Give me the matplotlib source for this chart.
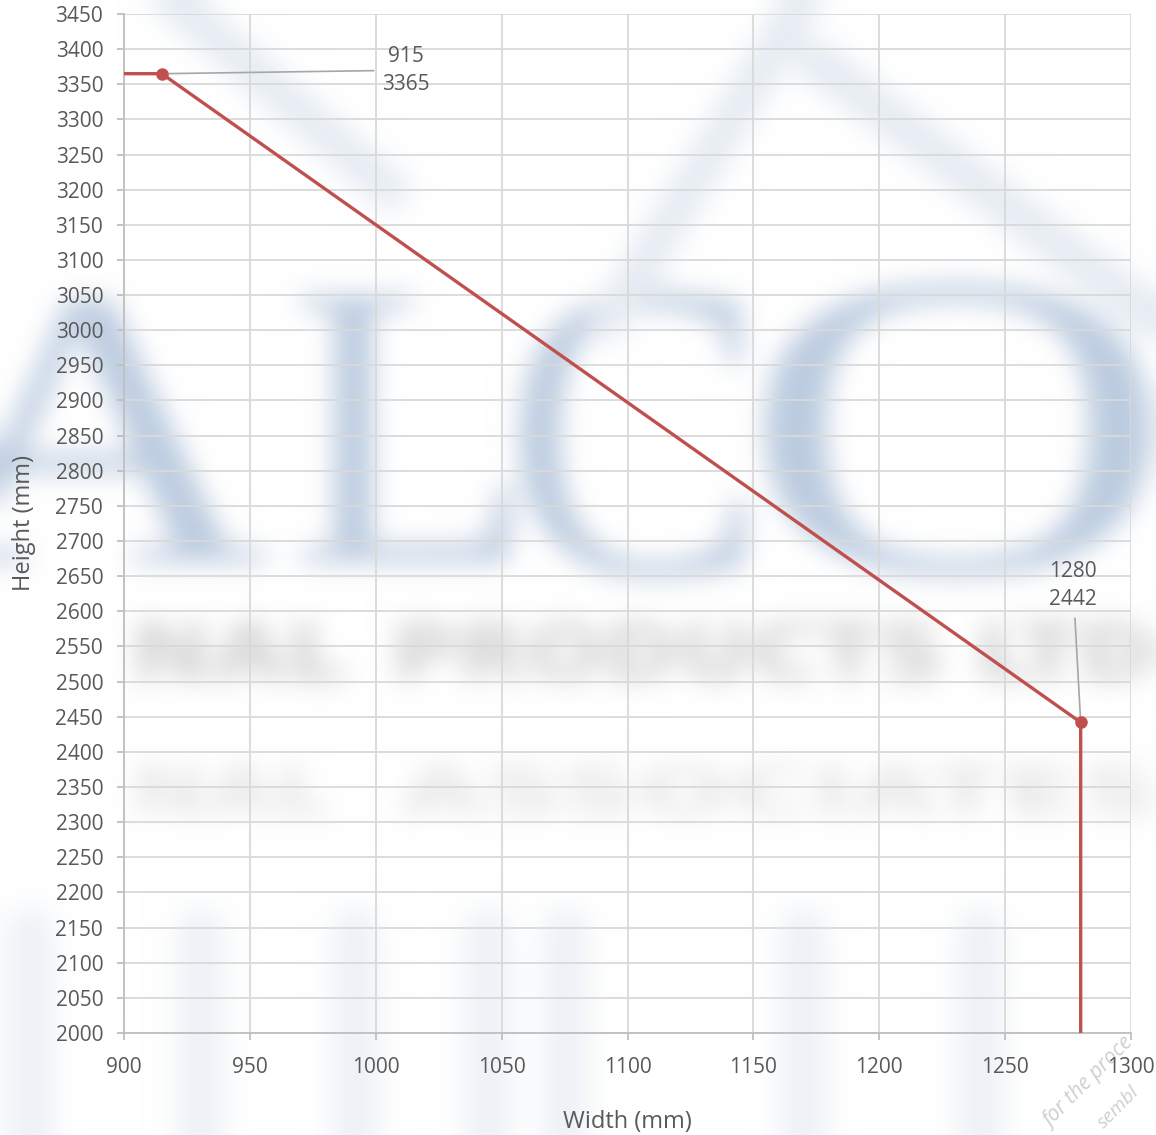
import numpy as np
import matplotlib
matplotlib.use("Agg")
import matplotlib.pyplot as plt
from matplotlib.figure import Figure
from matplotlib.backends.backend_agg import FigureCanvasAgg
from matplotlib.textpath import TextPath
from matplotlib.patches import PathPatch
from matplotlib.lines import Line2D
from matplotlib.font_manager import FontProperties
from matplotlib.transforms import Affine2D, IdentityTransform

# data
width_mm = [900, 915, 1280, 1280]
height_mm = [3365, 3365, 2442, 2000]
point_w = [915, 1280]
point_h = [3365, 2442]
label_pos = [(1012, 3370), (1277, 2637)]   # where the value labels sit
x_ticks = list(range(900, 1301, 50))
y_ticks = list(range(2000, 3451, 50))

plt.rcParams['font.family'] = ['Open Sans', 'DejaVu Sans']
txt = '#595959'
red = '#c0504d'
W, H = 1156, 1135


def box_blur(a, r, axis):
    pad = [(r, r) if i == axis else (0, 0) for i in range(a.ndim)]
    a = np.pad(a, pad, mode='edge')
    c = np.cumsum(a, axis=axis)
    c = np.insert(c, 0, 0, axis=axis)
    n = a.shape[axis] - 2 * r
    hi = np.take(c, np.arange(2 * r + 1, 2 * r + 1 + n), axis=axis)
    lo = np.take(c, np.arange(0, n), axis=axis)
    return (hi - lo) / (2 * r + 1)


def blur(img, r, passes=3):
    for _ in range(passes):
        img = box_blur(img, r, 0)
        img = box_blur(img, r, 1)
    return img


def put_word(fig, s, box, color, prop):
    # squeeze a text outline into a pixel box (x0, x1, ytop, ybottom)
    tp = TextPath((0, 0), s, size=100, prop=prop)
    ext = tp.get_extents()
    x0, x1, yt, yb = box
    sx = (x1 - x0) / ext.width
    sy = (yb - yt) / ext.height
    tr = (Affine2D().translate(-ext.x0, -ext.y0).scale(sx, sy)
          .translate(x0, H - yb))
    fig.patches.append(PathPatch(tr.transform_path(tp), fc=color, ec='none',
                                 transform=IdentityTransform(), figure=fig))


def swoosh(fig, xs, ys, color, width):
    # soft band of the logo, pixel coords from the top-left corner
    fig.lines.append(Line2D(xs, [H - y for y in ys], color=color, lw=width,
                            solid_capstyle='round',
                            transform=IdentityTransform(), figure=fig))


def watermark():
    wf = Figure(figsize=(W / 100, H / 100), dpi=100)
    cv = FigureCanvasAgg(wf)
    serif = FontProperties(family='Liberation Serif')
    sans = FontProperties(family='DejaVu Sans', weight='bold')
    blue = '#bccce0'
    pale = '#e6ecf3'
    swoosh(wf, [150, 390], [-20, 190], pale, 28)
    swoosh(wf, [610, 815], [320, -20], pale, 28)
    swoosh(wf, [815, 1170], [60, 330], pale, 30)
    for x in [30, 200, 355, 487, 565, 803, 980]:
        swoosh(wf, [x, x], [930, 1160], '#eef2f7', 34)
    put_word(wf, 'A', (-80, 268, 300, 562), blue, serif)
    put_word(wf, 'L', (300, 512, 296, 562), blue, serif)
    put_word(wf, 'C', (520, 745, 292, 578), blue, serif)
    put_word(wf, 'O', (765, 1150, 284, 576), blue, serif)
    put_word(wf, 'NAL', (140, 345, 622, 680), '#d0d0d0', sans)
    put_word(wf, 'PRODUCTS LTD', (400, 1150, 622, 680), '#d0d0d0', sans)
    put_word(wf, 'NAL', (140, 330, 765, 815), '#e6e6e6', sans)
    put_word(wf, 'ASSOCIATES', (400, 1150, 765, 815), '#e6e6e6', sans)
    cv.draw()
    img = np.asarray(cv.buffer_rgba())[..., :3].astype(float) / 255
    return np.clip(blur(img, 12), 0, 1)


fig = plt.figure(figsize=(W / 100, H / 100), dpi=100)
bg = fig.add_axes([0, 0, 1, 1], zorder=0)
bg.imshow(watermark(), aspect='auto', interpolation='bilinear')
bg.axis('off')
fig.text(1040 / W, 1 - 1132 / H, 'for the proce', rotation=45, fontsize=15,
         style='italic', color='#cfcfcf', ha='left', va='bottom', zorder=0.5)
fig.text(1094 / W, 1 - 1132 / H, 'sembl', rotation=45, fontsize=14,
         style='italic', color='#cfcfcf', ha='left', va='bottom', zorder=0.5)

ax = fig.add_axes([0.1073, 0.0899, 0.8711, 0.8978], zorder=1)
ax.set_facecolor('none')

ax.plot(width_mm, height_mm, color=red, lw=2.4, zorder=3)
ax.plot(point_w, point_h, 'o', color=red, ms=8, zorder=4)

# value labels with leader lines
for (px, py), (lx, ly) in zip(zip(point_w, point_h), label_pos):
    ax.annotate(f"{px}\n{py}", xy=(px, py), xytext=(lx, ly),
                ha='center', va='center', fontsize=15, color=txt,
                linespacing=1.45,
                arrowprops=dict(arrowstyle='-', color='#a6a6a6', lw=1.2,
                                shrinkA=4, shrinkB=0))

ax.set_xlim(900, 1300)
ax.set_ylim(2000, 3450)
ax.set_xticks(x_ticks)
ax.set_yticks(y_ticks)
ax.grid(True, color='#d9d9d9', lw=1.3)
ax.set_axisbelow(True)
for s in ['top', 'right']:
    ax.spines[s].set_visible(False)
for s in ['left', 'bottom']:
    ax.spines[s].set_color('#bfbfbf')
    ax.spines[s].set_linewidth(1.3)
ax.tick_params(colors='#bfbfbf', labelcolor=txt, labelsize=15, length=5, width=1.3)
ax.tick_params(axis='x', pad=12)
ax.tick_params(axis='y', pad=10)
ax.set_xlabel('Width (mm)', fontsize=17, color=txt, labelpad=23)
ax.set_ylabel('Height (mm)', fontsize=17, color=txt, labelpad=14)

fig.savefig('out.png', dpi=100)
